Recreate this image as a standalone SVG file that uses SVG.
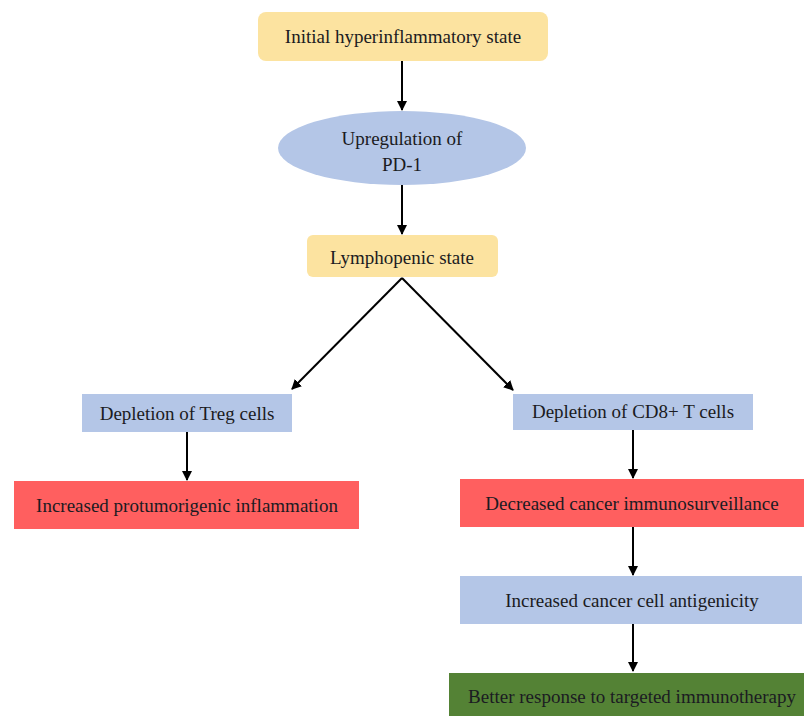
<svg xmlns="http://www.w3.org/2000/svg" width="804" height="716" viewBox="0 0 804 716">
<defs>
<marker id="ah" viewBox="0 0 10 10" refX="9" refY="5" markerWidth="10" markerHeight="10" markerUnits="userSpaceOnUse" orient="auto">
<path d="M0,0 L10,5 L0,10 z" fill="#000"/>
</marker>
<style>
.t text{font-family:'Liberation Serif','Times New Roman',serif;font-size:19px;fill:#1b1b22;text-anchor:middle}
.y{fill:#FCE3A0}
.b{fill:#B4C6E7}
.r{fill:#FF5F5F}
.g{fill:#548235}
.c line{stroke:#000;stroke-width:2;marker-end:url(#ah)}
</style>
</defs>
<rect width="804" height="716" fill="#fff"/>
<g class="t" font-family="Liberation Serif" font-size="19">
<g id="n1"><rect class="y" x="258" y="12" width="290" height="49" rx="8"/><text x="403" y="43">Initial hyperinflammatory state</text></g>
<g id="n2"><ellipse class="b" cx="402" cy="148" rx="124" ry="37"/><text x="402" y="145">Upregulation of</text><text x="402" y="171">PD-1</text></g>
<g id="n3"><rect class="y" x="307" y="235" width="191" height="42" rx="6"/><text x="402" y="264">Lymphopenic state</text></g>
<g id="n4"><rect class="b" x="82" y="394" width="210" height="38"/><text x="187" y="420">Depletion of Treg cells</text></g>
<g id="n5"><rect class="r" x="14" y="481" width="345" height="48"/><text x="187" y="512">Increased protumorigenic inflammation</text></g>
<g id="n6"><rect class="b" x="513" y="394" width="240" height="36"/><text x="633" y="418">Depletion of CD8+ T cells</text></g>
<g id="n7"><rect class="r" x="460" y="479" width="344" height="48"/><text x="632" y="510">Decreased cancer immunosurveillance</text></g>
<g id="n8"><rect class="b" x="460" y="576" width="342" height="48"/><text x="632" y="607">Increased cancer cell antigenicity</text></g>
<g id="n9"><rect class="g" x="449" y="673" width="355" height="43"/><text x="632" y="703">Better response to targeted immunotherapy</text></g>
</g>
<g id="connectors" class="c">
<line x1="402" y1="61" x2="402" y2="110"/>
<line x1="402" y1="185" x2="402" y2="234"/>
<line x1="402" y1="278" x2="292" y2="389"/>
<line x1="402" y1="278" x2="513" y2="390"/>
<line x1="187" y1="432" x2="187" y2="480"/>
<line x1="633" y1="430" x2="633" y2="478"/>
<line x1="633" y1="527" x2="633" y2="575"/>
<line x1="633" y1="624" x2="633" y2="671"/>
</g>
</svg>
